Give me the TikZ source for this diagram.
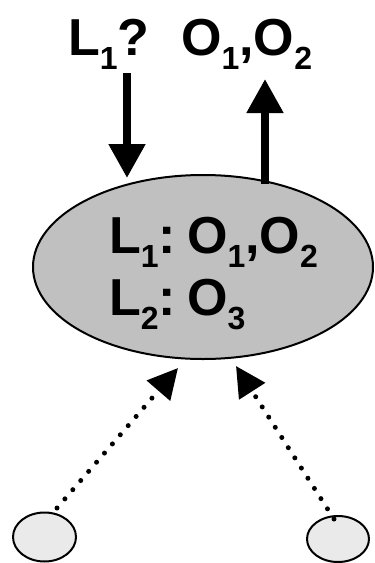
\documentclass[tikz,border=0pt]{standalone}
\usepackage{fontspec}
\setmainfont{Liberation Sans}
\usetikzlibrary{arrows.meta,shapes.geometric}
\newcommand\sbs[1]{\raisebox{-14pt}{\fontsize{32}{32}\selectfont #1}}
\begin{document}
\begin{tikzpicture}[x=1pt,y=-1pt,
  lbl/.style={inner sep=0pt,anchor=base west,font=\fontsize{52}{62}\selectfont\bfseries},
  bigell/.style={ellipse,draw=black,line width=2pt,fill={rgb,255:red,192;green,192;blue,192},minimum width=340pt,minimum height=184pt,inner sep=0pt},
  smallell/.style={ellipse,draw=black,line width=2pt,fill={rgb,255:red,234;green,234;blue,234},inner sep=0pt},
  solidarrow/.style={line width=8pt,-{Triangle[width=35pt,length=34pt]}},
  dotarrow/.style={line width=5pt,line cap=round,dash pattern=on 0pt off 12.1pt,-{Triangle[width=30pt,length=30pt]}}]
\useasboundingbox (0,0) rectangle (375,563);
\node[bigell] (big) at (203,267) {};
\node[smallell,minimum width=63pt,minimum height=49pt] (s1) at (44.5,537) {};
\node[smallell,minimum width=62pt,minimum height=46pt] (s2) at (338,539) {};
\node[lbl] (q) at (68,55) {L\sbs{1}?};
\node[lbl] (ans) at (181,55) {O\sbs{1},O\sbs{2}};
\node[lbl] (line1) at (109,253) {L\sbs{1}:\hspace{11pt}O\sbs{1},O\sbs{2}};
\node[lbl] (line2) at (109,315) {L\sbs{2}:\hspace{11pt}O\sbs{3}};
\coordinate (qs) at (127,73);
\coordinate (qt) at (127,178);
\coordinate (as) at (265,184);
\coordinate (at) at (265,79);
\coordinate (d1s) at (57,508);
\coordinate (d1t) at (178,368);
\coordinate (d2s) at (334,519);
\coordinate (d2t) at (236,366);
\draw[solidarrow] (qs) -- (qt);
\draw[solidarrow] (as) -- (at);
\draw[dotarrow] (d1s) -- (d1t);
\draw[dotarrow] (d2s) -- (d2t);
\end{tikzpicture}
\end{document}
